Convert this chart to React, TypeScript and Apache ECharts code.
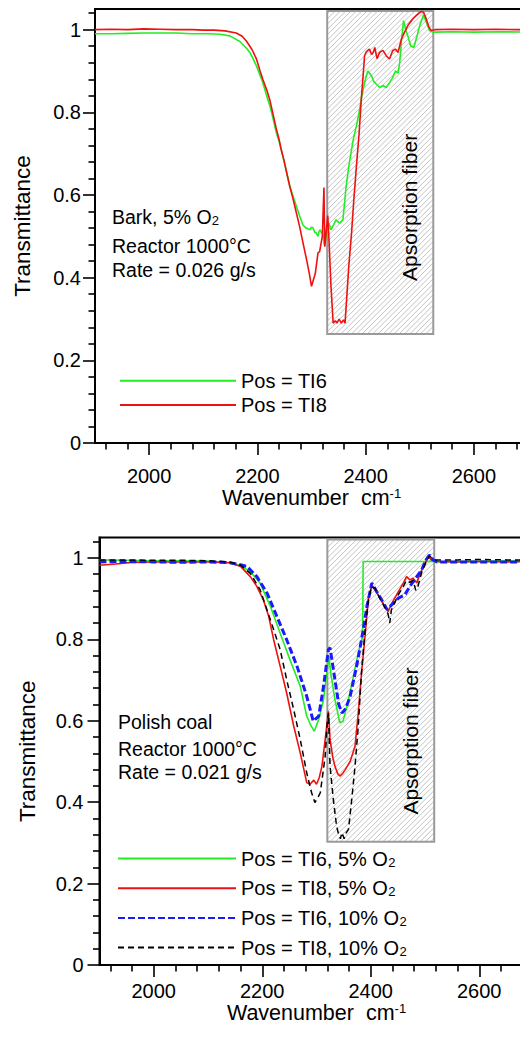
import React, { useEffect, useRef } from "react";
import * as echarts from "echarts";

const FONT = "'Liberation Sans', Arial, Helvetica, sans-serif";

// ---------- axis ticks ----------
const xRange = [1900, 2700];
const yRange = [0, 1.05];
const xMajorTicks = [2000, 2200, 2400, 2600];
const xMinorTicks = [1920, 1960, 2040, 2080, 2120, 2160, 2240, 2280, 2320, 2360, 2440, 2480, 2520, 2560, 2640, 2680];
const yMajorTicks = [0, 0.2, 0.4, 0.6, 0.8, 1];
const yMinorTicks = [0.04, 0.08, 0.12, 0.16, 0.24, 0.28, 0.32, 0.36, 0.44, 0.48, 0.52, 0.56, 0.64, 0.68, 0.72, 0.76, 0.84, 0.88, 0.92, 0.96, 1.04];

// ---------- series names ----------
const topNames = ["Pos = TI6", "Pos = TI8"];
const bottomNames = ["Pos = TI6, 5% O2", "Pos = TI8, 5% O2", "Pos = TI6, 10% O2", "Pos = TI8, 10% O2"];

// ---------- top panel: Bark, 5% O2 ----------
const barkTI6: [number, number][] = [
  [1900, 0.99], [1930, 0.99], [1960, 0.991], [1990, 0.992], [2020, 0.992], [2050, 0.992], [2080, 0.99], [2110, 0.99],
  [2130, 0.989], [2149, 0.985], [2167, 0.972], [2180, 0.955], [2186, 0.945], [2192, 0.93], [2198, 0.913], [2204, 0.893],
  [2210, 0.872], [2216, 0.845], [2223, 0.816], [2229, 0.785], [2235, 0.751], [2240, 0.73], [2244, 0.71], [2249, 0.683],
  [2254, 0.654], [2260, 0.621], [2266, 0.597], [2272, 0.573], [2278, 0.55], [2284, 0.528], [2290, 0.52], [2297, 0.516],
  [2300, 0.522], [2303, 0.52], [2306, 0.51], [2309, 0.508], [2312, 0.5], [2314, 0.512], [2316, 0.516], [2318, 0.51],
  [2321, 0.505], [2324, 0.478], [2327, 0.5], [2330, 0.528], [2332, 0.532], [2336, 0.516], [2341, 0.528], [2345, 0.54],
  [2352, 0.532], [2358, 0.54], [2361, 0.58], [2364, 0.621], [2369, 0.67], [2374, 0.71], [2378, 0.74], [2383, 0.767],
  [2388, 0.8], [2392, 0.832], [2398, 0.872], [2404, 0.9], [2407, 0.895], [2411, 0.888], [2415, 0.875], [2420, 0.868],
  [2426, 0.86], [2432, 0.865], [2438, 0.86], [2444, 0.872], [2450, 0.884], [2455, 0.9], [2460, 0.895], [2463, 0.921],
  [2466, 0.969], [2470, 1.022], [2474, 1.0], [2478, 0.985], [2483, 0.961], [2489, 0.957], [2495, 0.985], [2500, 1.01],
  [2507, 1.036], [2512, 1.018], [2518, 0.998], [2524, 0.994], [2530, 0.994], [2560, 0.995], [2600, 0.994], [2650, 0.995],
  [2700, 0.994],
];
const barkTI8: [number, number][] = [
  [1900, 1.0], [1930, 1.001], [1960, 1.0], [1990, 1.002], [2020, 1.001], [2050, 1.0], [2080, 1.0], [2100, 0.999],
  [2120, 0.999], [2140, 0.997], [2161, 0.992], [2172, 0.984], [2180, 0.972], [2190, 0.952], [2198, 0.93], [2205, 0.9],
  [2210, 0.88], [2217, 0.855], [2223, 0.83], [2229, 0.795], [2235, 0.76], [2240, 0.735], [2244, 0.71], [2249, 0.685],
  [2254, 0.655], [2260, 0.62], [2266, 0.59], [2272, 0.557], [2278, 0.524], [2285, 0.48], [2291, 0.443], [2296, 0.41],
  [2300, 0.379], [2307, 0.41], [2312, 0.46], [2315, 0.463], [2320, 0.5], [2323, 0.618], [2324.5, 0.475], [2330, 0.55],
  [2332, 0.5], [2336, 0.38], [2340, 0.29], [2344, 0.296], [2347, 0.29], [2351, 0.3], [2355, 0.29], [2359, 0.298],
  [2362, 0.29], [2365, 0.35], [2369, 0.43], [2374, 0.508], [2378, 0.585], [2383, 0.67], [2388, 0.75], [2392, 0.832],
  [2396, 0.9], [2398, 0.937], [2401, 0.946], [2404, 0.95], [2407, 0.953], [2411, 0.94], [2414, 0.945], [2417, 0.957],
  [2421, 0.93], [2426, 0.945], [2432, 0.95], [2438, 0.937], [2444, 0.929], [2450, 0.949], [2455, 0.953], [2460, 0.945],
  [2463, 0.961], [2466, 0.977], [2472, 0.994], [2478, 1.01], [2487, 1.026], [2497, 1.038], [2503, 1.044], [2507, 1.042],
  [2512, 1.026], [2517, 1.006], [2521, 0.998], [2528, 1.0], [2560, 1.001], [2600, 1.0], [2640, 1.001], [2680, 1.0],
  [2700, 1.0],
];

// ---------- bottom panel: Polish coal ----------
const coalTI6_5: [number, number][] = [
  [1900, 0.995], [1950, 0.994], [2000, 0.993], [2050, 0.993], [2100, 0.992], [2140, 0.988], [2160, 0.981], [2178, 0.966],
  [2196, 0.938], [2215, 0.881], [2233, 0.815], [2251, 0.75], [2270, 0.685], [2282, 0.611], [2289, 0.59], [2296, 0.574],
  [2304, 0.603], [2313, 0.652], [2319, 0.717], [2323, 0.758], [2326, 0.72], [2334, 0.652], [2343, 0.595], [2349, 0.599],
  [2359, 0.652], [2368, 0.709], [2377, 0.766], [2385, 0.807], [2386, 0.991], [2400, 0.991], [2450, 0.991], [2500, 0.991],
  [2512, 0.992], [2520, 0.99], [2560, 0.991], [2600, 0.992], [2650, 0.992], [2700, 0.992],
];
const coalTI8_5: [number, number][] = [
  [1900, 0.982], [1930, 0.985], [1960, 0.989], [2000, 0.99], [2050, 0.99], [2100, 0.99], [2141, 0.988], [2160, 0.979],
  [2178, 0.954], [2190, 0.93], [2202, 0.897], [2212, 0.856], [2221, 0.799], [2233, 0.734], [2245, 0.668], [2258, 0.587],
  [2270, 0.521], [2282, 0.448], [2288, 0.444], [2295, 0.454], [2300, 0.444], [2305, 0.46], [2310, 0.488], [2316, 0.554],
  [2322, 0.623], [2325, 0.554], [2330, 0.51], [2334, 0.488], [2339, 0.47], [2343, 0.464], [2348, 0.47], [2353, 0.48],
  [2362, 0.5], [2371, 0.537], [2377, 0.619], [2383, 0.717], [2390, 0.815], [2396, 0.905], [2402, 0.93], [2408, 0.922],
  [2417, 0.901], [2426, 0.881], [2432, 0.868], [2439, 0.889], [2451, 0.917], [2460, 0.938], [2466, 0.954], [2472, 0.946],
  [2478, 0.95], [2485, 0.938], [2491, 0.962], [2500, 0.987], [2506, 1.003], [2512, 0.995], [2521, 0.991], [2560, 0.99],
  [2600, 0.991], [2650, 0.99], [2700, 0.991],
];
const coalTI6_10: [number, number][] = [
  [1900, 0.99], [1950, 0.991], [2000, 0.99], [2050, 0.989], [2100, 0.99], [2140, 0.988], [2160, 0.983], [2172, 0.979],
  [2190, 0.954], [2209, 0.913], [2227, 0.856], [2245, 0.799], [2264, 0.734], [2282, 0.66], [2294, 0.599], [2304, 0.611],
  [2313, 0.685], [2322, 0.775], [2325, 0.779], [2334, 0.701], [2341, 0.64], [2347, 0.619], [2354, 0.63], [2362, 0.66],
  [2374, 0.734], [2383, 0.799], [2393, 0.881], [2402, 0.938], [2411, 0.917], [2420, 0.897], [2430, 0.873], [2439, 0.885],
  [2451, 0.901], [2463, 0.909], [2472, 0.93], [2485, 0.954], [2494, 0.971], [2502, 0.995], [2508, 1.007], [2515, 0.995],
  [2522, 0.99], [2560, 0.99], [2600, 0.99], [2650, 0.99], [2700, 0.99],
];
const coalTI8_10: [number, number][] = [
  [1900, 0.995], [1950, 0.995], [2000, 0.994], [2050, 0.994], [2100, 0.993], [2140, 0.99], [2160, 0.982], [2178, 0.962],
  [2196, 0.922], [2215, 0.848], [2233, 0.775], [2245, 0.701], [2258, 0.627], [2270, 0.554], [2282, 0.472], [2291, 0.423],
  [2297, 0.399], [2302, 0.41], [2307, 0.423], [2316, 0.513], [2320, 0.6], [2322, 0.619], [2325, 0.488], [2331, 0.407],
  [2337, 0.341], [2341, 0.32], [2344, 0.31], [2347, 0.325], [2351, 0.31], [2355, 0.325], [2359, 0.333], [2365, 0.407],
  [2371, 0.488], [2377, 0.587], [2383, 0.72], [2390, 0.83], [2396, 0.9], [2402, 0.93], [2408, 0.925], [2417, 0.9],
  [2426, 0.878], [2432, 0.862], [2435, 0.84], [2438, 0.872], [2451, 0.91], [2460, 0.93], [2466, 0.945], [2472, 0.94],
  [2478, 0.945], [2483, 0.92], [2487, 0.93], [2494, 0.965], [2502, 0.99], [2508, 1.005], [2514, 0.998], [2520, 0.995],
  [2560, 0.995], [2600, 0.996], [2650, 0.995], [2700, 0.995],
];

// absorption-fiber band: [x0, x1, y0, y1, labelX, labelY]
const topBand = [[2329, 2525, 0.264, 1.045, 2481, 0.57]];
const bottomBand = [[2320, 2517, 0.303, 1.045, 2474, 0.55]];
const bandLabel = "Apsorption fiber";

// annotation lines
const topNote = ["Bark, 5% O{sub|2}", "Reactor 1000°C", "Rate = 0.026 g/s"];
const bottomNote = ["Polish coal", "Reactor 1000°C", "Rate = 0.021 g/s"];

const subStyle = { fontSize: 13, lineHeight: 13, padding: [10, 0, 0, 0], verticalAlign: "bottom", fontFamily: FONT, color: "#000" };
const supStyle = { fontSize: 13, lineHeight: 13, padding: [0, 0, 8, 0], verticalAlign: "top", fontFamily: FONT, color: "#000" };

function bandRender(params: any, api: any) {
  const x0 = api.value(0), x1 = api.value(1), y0 = api.value(2), y1 = api.value(3);
  const p0 = api.coord([x0, y1]);
  const p1 = api.coord([x1, y0]);
  const L = p0[0], T = p0[1], R = p1[0], B = p1[1];
  const children: any[] = [];
  const step = 5.3;
  for (let c = L + T + step / 2; c < R + B; c += step) {
    const xa = Math.max(L, c - B);
    const xb = Math.min(R, c - T);
    if (xb <= xa) continue;
    children.push({
      type: "line",
      shape: { x1: xa, y1: c - xa, x2: xb, y2: c - xb },
      style: { stroke: "#bcbcbc", lineWidth: 0.9 },
    });
  }
  children.push({
    type: "rect",
    shape: { x: L, y: T, width: R - L, height: B - T },
    style: { fill: "none", stroke: "#9a9a9a", lineWidth: 2 },
  });
  const lp = api.coord([api.value(4), api.value(5)]);
  children.push({
    type: "text",
    x: lp[0],
    y: lp[1],
    rotation: Math.PI / 2,
    style: { text: bandLabel, fontSize: 21, fontFamily: FONT, fill: "#000", align: "center", verticalAlign: "middle" },
  });
  return { type: "group", children };
}

function makeXAxes(gridIndex: number, labelMargin: number, nameGap: number) {
  return [
    {
      type: "value", gridIndex, position: "bottom", min: xRange[0], max: xRange[1],
      name: "Wavenumber  cm{sup|-1}", nameLocation: "middle", nameGap,
      nameTextStyle: { fontSize: 21.5, fontFamily: FONT, color: "#000", rich: { sup: supStyle } },
      axisLine: { show: true, onZero: false, lineStyle: { color: "#000", width: 2 } },
      axisTick: { show: true, inside: false, length: 12, customValues: xMajorTicks, lineStyle: { color: "#000", width: 1.6 } },
      axisLabel: { show: true, margin: labelMargin, customValues: xMajorTicks, fontSize: 20, fontFamily: FONT, color: "#000", formatter: (v: number) => String(v) },
      splitLine: { show: false },
    },
    {
      type: "value", gridIndex, position: "bottom", min: xRange[0], max: xRange[1],
      axisLine: { show: false, onZero: false },
      axisTick: { show: true, inside: false, length: 6.5, customValues: xMinorTicks, lineStyle: { color: "#000", width: 1.6 } },
      axisLabel: { show: false },
      splitLine: { show: false },
    },
  ];
}

function makeYAxes(gridIndex: number, labelMargin: number) {
  return [
    {
      type: "value", gridIndex, position: "left", min: yRange[0], max: yRange[1],
      name: "Transmittance", nameLocation: "middle", nameRotate: 90, nameGap: 61,
      nameTextStyle: { fontSize: 22.5, fontFamily: FONT, color: "#000" },
      axisLine: { show: true, onZero: false, lineStyle: { color: "#000", width: 2 } },
      axisTick: { show: true, inside: false, length: 12, customValues: yMajorTicks, lineStyle: { color: "#000", width: 1.6 } },
      axisLabel: {
        show: true, margin: labelMargin, customValues: yMajorTicks, fontSize: 20, fontFamily: FONT, color: "#000",
        formatter: (v: number) => (Math.abs(v) < 1e-9 ? "0" : Math.abs(v - 1) < 1e-9 ? "1" : v.toFixed(1)),
      },
      splitLine: { show: false },
    },
    {
      type: "value", gridIndex, position: "left", min: yRange[0], max: yRange[1],
      axisLine: { show: false, onZero: false },
      axisTick: { show: true, inside: false, length: 6.5, customValues: yMinorTicks, lineStyle: { color: "#000", width: 1.6 } },
      axisLabel: { show: false },
      splitLine: { show: false },
    },
  ];
}

function lineSeries(name: string, data: [number, number][], axis: number, color: string, width: number, type: any, z = 3) {
  return {
    type: "line", name, data, xAxisIndex: axis, yAxisIndex: axis, symbol: "none", showSymbol: false,
    smooth: false, animation: false, z,
    lineStyle: { color, width, type },
    itemStyle: { color },
    emphasis: { disabled: true },
  };
}

function noteText(lines: string[], x: number, ys: number[]) {
  return lines.map((t, i) => ({
    type: "text",
    x,
    y: ys[i],
    style: {
      text: t, fontSize: 19.5, fontFamily: FONT, fill: "#000", align: "left", verticalAlign: "middle",
      rich: { sub: subStyle },
    },
  }));
}

const legendFormatter = (name: string) => name.replace(/O2$/, "O{sub|2}");
const hiddenSymbol = { opacity: 0, color: "rgba(0,0,0,0)", borderWidth: 0, borderColor: "rgba(0,0,0,0)" };

function buildOption(): any {
  return {
    animation: false,
    backgroundColor: "#fff",
    grid: [
      { left: 95, top: 9, width: 433, height: 434, show: true, borderColor: "#000", borderWidth: 2, backgroundColor: "transparent", containLabel: false, outerBoundsMode: "none" },
      { left: 99.5, top: 537.5, width: 434, height: 427.5, show: true, borderColor: "#000", borderWidth: 2, backgroundColor: "transparent", containLabel: false, outerBoundsMode: "none" },
    ],
    xAxis: [...makeXAxes(0, 23, 42.5), ...makeXAxes(1, 16, 37)],
    yAxis: [...makeYAxes(0, 14), ...makeYAxes(1, 16)],
    legend: [
      {
        data: topNames, orient: "vertical", left: 114, top: 365.7, itemWidth: 116, itemHeight: 24, itemGap: 4.3,
        selectedMode: false, formatter: legendFormatter, itemStyle: hiddenSymbol,
        textStyle: { fontSize: 20, fontFamily: FONT, color: "#000", rich: { sub: subStyle } },
      },
      {
        data: bottomNames, orient: "vertical", left: 112, top: 840.5, itemWidth: 118, itemHeight: 24, itemGap: 6.7,
        selectedMode: false, formatter: legendFormatter, itemStyle: hiddenSymbol,
        textStyle: { fontSize: 20, fontFamily: FONT, color: "#000", rich: { sub: subStyle } },
      },
    ],
    graphic: [...noteText(topNote, 112, [217, 245.5, 269.5]), ...noteText(bottomNote, 118, [722, 748.5, 771.5])],
    series: [
      {
        type: "custom", name: "band-top", xAxisIndex: 0, yAxisIndex: 0, data: topBand, renderItem: bandRender,
        encode: { x: [0, 1], y: [2, 3] }, z: 1, silent: true, clip: false,
      },
      {
        type: "custom", name: "band-bottom", xAxisIndex: 2, yAxisIndex: 2, data: bottomBand, renderItem: bandRender,
        encode: { x: [0, 1], y: [2, 3] }, z: 1, silent: true, clip: false,
      },
      lineSeries(topNames[0], barkTI6, 0, "#22ee22", 1.6, "solid"),
      lineSeries(topNames[1], barkTI8, 0, "#ee1111", 1.6, "solid"),
      lineSeries(bottomNames[0], coalTI6_5, 2, "#22ee22", 1.6, "solid"),
      lineSeries(bottomNames[1], coalTI8_5, 2, "#ee1111", 1.6, "solid"),
      lineSeries(bottomNames[2], coalTI6_10, 2, "#1a1aff", 3, [7, 3], 4),
      lineSeries(bottomNames[3], coalTI8_10, 2, "#000000", 1.5, [6, 4], 5),
    ],
  };
}

export default function App() {
  const ref = useRef<HTMLDivElement>(null);
  useEffect(() => {
    if (!ref.current) return;
    const chart = echarts.init(ref.current, null, { renderer: "svg" });
    chart.setOption(buildOption());
    return () => chart.dispose();
  }, []);
  return <div ref={ref} style={{ position: "absolute", left: 0, top: 0, width: 520, height: 1039, background: "#fff" }} />;
}
